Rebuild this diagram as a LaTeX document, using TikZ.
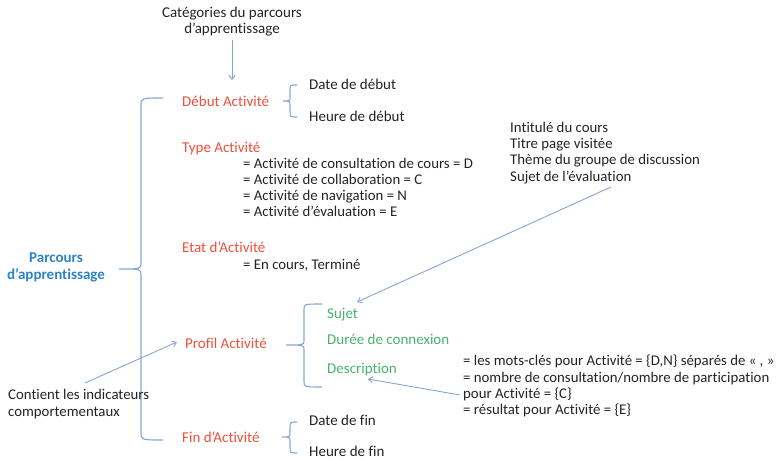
\documentclass[tikz,border=0pt]{standalone}
\usepackage{fontspec}
\setmainfont{Carlito}[Ligatures=NoCommon]
\usetikzlibrary{arrows.meta}
\definecolor{redlab}{RGB}{238,80,60}
\definecolor{greenlab}{RGB}{70,180,110}
\definecolor{bluelab}{RGB}{45,130,200}
\definecolor{linecol}{RGB}{135,165,210}
\definecolor{txt}{RGB}{35,35,35}
\newcommand\curlybr[6]{%
  \draw[bracestyle] (#3,#4) .. controls (#2,#4) .. (#2,{#4+6}) -- (#2,{#5-5})
    .. controls (#2,#5) .. (#1,#5) .. controls (#2,#5) .. (#2,{#5+5})
    -- (#2,{#6-6}) .. controls (#2,#6) .. (#3,#6);}
\begin{document}
\begin{tikzpicture}[x=1pt,y=-1pt,
  bracestyle/.style={draw=linecol,line width=1.1pt},
  conn/.style={draw=linecol,line width=0.9pt,-{Straight Barb[length=4pt,width=6pt]}},
  lab/.style={anchor=base west,inner sep=0pt,text=txt,font=\fontsize{14.8}{16}\selectfont},
  big/.style={lab,font=\fontsize{15}{16}\selectfont},
  cat/.style={big,text=redlab},
  sub/.style={big,text=greenlab}]
\useasboundingbox (0,0) rectangle (781,460);
% top title
\node[inner sep=0pt,align=center,text=txt,font=\fontsize{15}{16}\selectfont] (title) at (232,22) {Catégories du parcours\\d’apprentissage};
\coordinate (tA) at (232,40);
\coordinate (tB) at (232,80);
\draw[conn] (tA) -- (tB);
% main label
\node[inner sep=0pt,align=center,text=bluelab,font=\bfseries\fontsize{15}{17}\selectfont] (parc) at (56,267.5) {Parcours\\d’apprentissage};
\draw[bracestyle] (163,98) .. controls (141,98) .. (141,106) -- (141,263)
  .. controls (141,269) .. (119,269) .. controls (141,269) .. (141,275)
  -- (141,432) .. controls (141,440) .. (163,440);
% categories
\node[cat] (debut) at (182,106) {Début Activité};
\curlybr{283}{290}{297}{85}{101}{117}
\node[big] (dd) at (309,89) {Date de début};
\node[big] (hd) at (309,121) {Heure de début};
\node[cat] (type) at (182,152) {Type Activité};
\node[lab] (t1) at (243,168) {= Activité de consultation de cours =\ D};
\node[lab] (t2) at (243,184) {= Activité de collaboration = C};
\node[lab] (t3) at (243,200) {= Activité de navigation = N};
\node[lab] (t4) at (243,216) {= Activité d’évaluation = E};
\node[cat] (etat) at (182,252) {Etat d’Activité};
\node[lab] (e1) at (243,269) {= En cours, Terminé};
\node[cat] (profil) at (185,348) {Profil Activité};
\curlybr{286}{304}{322}{304}{345}{387}
\node[sub] (sujet) at (327,318) {Sujet};
\node[sub] (duree) at (327,344) {Durée de connexion};
\node[sub] (descr) at (327,373) {Description};
\node[cat] (fin) at (182,442) {Fin d’Activité};
\curlybr{282}{290}{297}{422}{437}{453}
\node[big] (df) at (309,425) {Date de fin};
\node[big] (hf) at (309,456) {Heure de fin};
% left note
\node[lab] (c1) at (8,399) {Contient les indicateurs};
\node[lab] (c2) at (8,416) {comportementaux};
\coordinate (cA) at (85,383);
\coordinate (cB) at (177,342);
\draw[conn] (cA) -- (cB);
% right list (sujet)
\node[lab] (r1) at (510,132) {Intitulé du cours};
\node[lab] (r2) at (510,148) {Titre page visitée};
\node[lab] (r3) at (510,164) {Thème du groupe de discussion};
\node[lab] (r4) at (510,181) {Sujet de l’évaluation};
\coordinate (sA) at (611,187);
\coordinate (sB) at (357,302);
\draw[conn] (sA) -- (sB);
% description list
\node[lab] (d1) at (463,365) {= les mots-clés pour Activité = \{D,N\} séparés de « , »};
\node[lab] (d2) at (463,382) {= nombre de consultation/nombre de participation};
\node[lab] (d3) at (463,398) {pour Activité = \{C\}};
\node[lab] (d4) at (463,414) {= résultat pour Activité = \{E\}};
\coordinate (dA) at (460,395);
\coordinate (dB) at (368,379);
\draw[conn] (dA) -- (dB);
\end{tikzpicture}
\end{document}
